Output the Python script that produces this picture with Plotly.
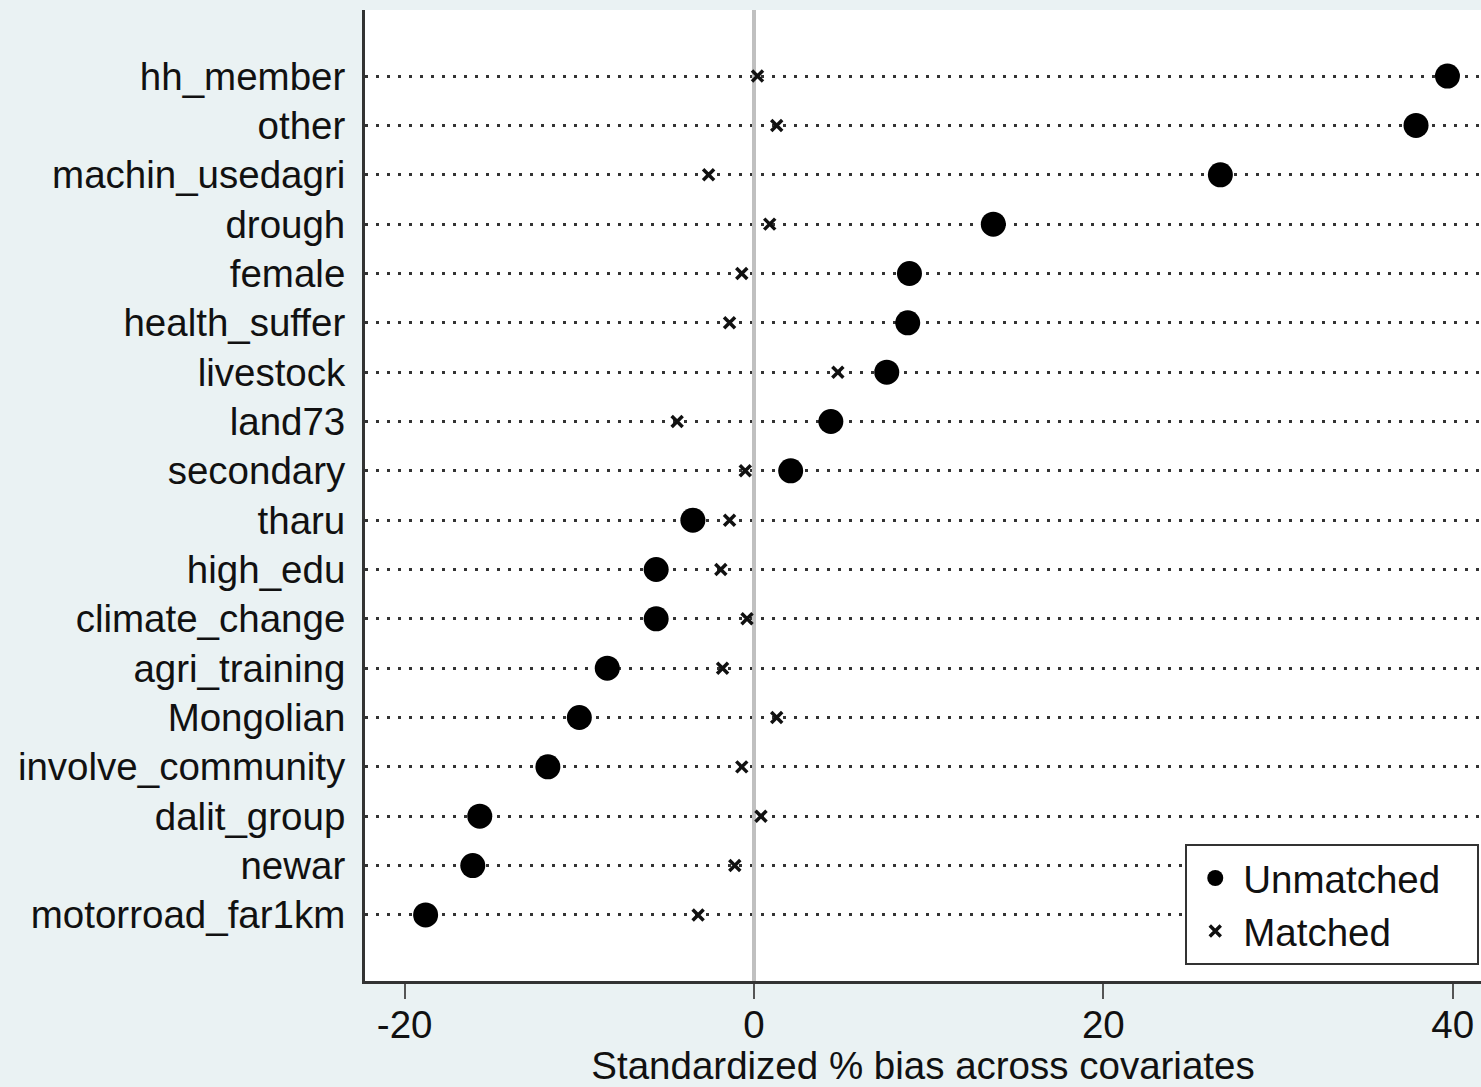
import plotly.graph_objects as go

covariates = ["hh_member", "other", "machin_usedagri", "drough", "female", "health_suffer",
              "livestock", "land73", "secondary", "tharu", "high_edu", "climate_change",
              "agri_training", "Mongolian", "involve_community", "dalit_group", "newar",
              "motorroad_far1km"]
unmatched = [39.7, 37.9, 26.7, 13.7, 8.9, 8.8, 7.6, 4.4, 2.1, -3.5, -5.6, -5.6,
             -8.4, -10.0, -11.8, -15.7, -16.1, -18.8]
matched = [0.2, 1.3, -2.6, 0.9, -0.7, -1.4, 4.8, -4.4, -0.5, -1.4, -1.9, -0.4,
           -1.8, 1.3, -0.7, 0.4, -1.1, -3.2]
xticks = [-20, 0, 20, 40]

W, H = 1481, 1087
ML, MR, MT, MB = 365, 0, 10, 104
FONT = "Liberation Sans, Arial, sans-serif"
FS = 38.5

idx = list(range(len(covariates)))

fig = go.Figure()
fig.add_trace(go.Scatter(x=unmatched, y=idx, mode="markers", name="Unmatched\u00a0\u00a0\u00a0",
                         marker=dict(symbol="circle", size=25, color="#000000")))
fig.add_trace(go.Scatter(x=matched, y=idx, mode="markers", name="Matched",
                         marker=dict(symbol="x-thin", size=11, color="#111111",
                                     line=dict(width=3.5, color="#111111"))))

fig.update_layout(
    width=W, height=H,
    margin=dict(l=ML, r=MR, t=MT, b=MB),
    paper_bgcolor="#EAF2F3", plot_bgcolor="#FFFFFF",
    font=dict(family=FONT, size=FS, color="#111111"),
    showlegend=True,
    legend=dict(x=0.735, y=0.016, xanchor="left", yanchor="bottom",
                bgcolor="#FFFFFF", bordercolor="#333333", borderwidth=2,
                font=dict(size=FS, color="#111111"), itemsizing="trace",
                itemwidth=46, tracegroupgap=0),
)
fig.update_xaxes(range=[-22.27, 41.62], tickvals=xticks, ticktext=[str(v) for v in xticks],
                 showgrid=False, zeroline=True, zerolinecolor="#C0C0C0", zerolinewidth=4,
                 showline=True, linecolor="#333333", linewidth=3, mirror=False,
                 ticks="outside", ticklen=15, tickwidth=2, tickcolor="#555555",
                 ticklabelstandoff=-7,
                 title=dict(text="Standardized % bias across covariates", standoff=14,
                            font=dict(size=FS)),
                 tickfont=dict(size=FS))
fig.update_yaxes(range=[len(covariates) - 1 + 1.34, -1.34], tickvals=idx, ticktext=covariates,
                 showgrid=True, gridcolor="#333333", gridwidth=2.5, griddash="3px,8px",
                 zeroline=False, showline=True, linecolor="#333333", linewidth=3,
                 ticks="outside", ticklen=9, tickcolor="rgba(0,0,0,0)",
                 tickfont=dict(size=FS))

fig.write_html("out.html", config={"displayModeBar": False},
               post_script="document.body.style.margin='0';document.body.style.padding='0';")
